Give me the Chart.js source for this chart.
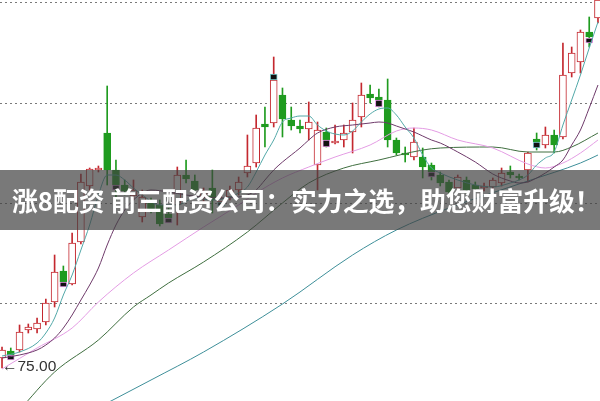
<!DOCTYPE html>
<html>
<head>
<meta charset="utf-8">
<script src="https://cdn.jsdelivr.net/npm/chart.js@4.4.1/dist/chart.umd.min.js"></script>
<style>
  html, body { margin: 0; padding: 0; background: #fff; }
  #wrap { position: relative; width: 600px; height: 401px; overflow: hidden; }
  #banner {
    position: absolute; left: 0; top: 170px; width: 600px; height: 60px;
    background: rgba(64, 64, 64, 0.7); color: #fff;
    font: 700 25.8px "Noto Sans CJK SC", "Noto Sans", sans-serif;
    line-height: 60px; padding-left: 12px; box-sizing: border-box; white-space: nowrap;
  }
  #lowTag {
    position: absolute; left: 2px; top: 357px;
    font: 15.5px "Liberation Sans", Arial, sans-serif; color: #333; white-space: nowrap;
  }
</style>
</head>
<body>
<div id="wrap">
  <canvas id="kline"></canvas>
  <div id="banner">涨8配资 前三配资公司：实力之选，助您财富升级！</div>
  <div id="lowTag">←75.00</div>
</div>
<script>
// ---- daily candles (price) ----
const candleOpen  = [76.0,76.7,76.8,78.8,78.9,79.6,81.6,84.7,83.4,87.6,93.2,94.8,98.5,94.8,93.3,92.2,90.1,91.5,91.3,90.4,91.3,94.3,93.7,92.0,93.0,91.6,92.1,92.8,94.5,95.5,99.4,99.5,102.3,99.8,99.2,98.9,95.3,98.6,97.5,97.8,98.6,100.1,102.4,102.1,101.8,97.8,96.5,96.1,96.1,95.3,94.3,93.6,93.0,93.8,93.3,93.0,93.1,93.5,94.6,94.2,94.8,97.9,97.3,98.3,98.1,104.5,105.6,108.6,110.0];
const candleClose = [76.8,76.3,78.6,79.1,79.5,81.5,84.6,83.6,87.5,93.6,94.9,95.0,94.8,93.3,92.7,92.8,92.1,90.8,89.4,90.0,94.3,93.9,92.8,92.6,91.8,92.0,92.8,93.6,95.2,99.0,99.1,103.8,99.9,99.2,98.9,99.6,98.8,97.8,97.7,98.5,99.8,102.3,102.0,101.8,97.8,96.5,96.3,97.6,95.1,94.6,93.5,92.6,94.1,92.8,92.9,93.2,93.8,94.5,94.3,94.0,96.5,97.6,98.3,97.3,104.3,106.5,108.6,108.1,111.8];
const candleHigh  = [77.1,77.0,79.3,79.4,80.0,81.9,86.3,85.2,88.5,94.4,95.0,95.2,103.2,95.8,93.8,93.8,92.8,92.0,91.8,91.0,95.1,95.8,94.3,93.0,94.8,92.3,93.2,94.1,98.3,100.3,101.1,106.1,103.0,101.1,99.8,101.6,99.6,99.0,99.3,99.3,101.5,103.5,103.3,102.9,103.9,98.0,97.1,99.0,97.0,95.5,94.6,93.8,94.3,94.1,93.6,93.5,94.0,95.0,95.2,94.4,96.6,98.5,99.1,98.8,107.5,107.1,108.8,110.1,112.3];
const candleLow   = [75.0,75.9,76.6,78.5,78.5,79.3,81.1,83.4,83.3,87.4,92.8,94.6,93.3,91.8,92.3,91.8,89.6,90.5,89.2,89.6,89.3,93.5,92.6,91.6,90.5,91.0,91.8,92.3,94.1,95.1,97.1,99.1,98.1,98.8,98.5,97.8,92.8,97.1,97.4,97.1,96.5,99.1,101.5,101.1,97.1,96.3,95.6,95.8,94.0,93.8,93.2,92.3,92.6,92.5,92.6,92.7,92.8,93.2,94.0,93.8,93.6,96.8,97.0,96.5,97.9,104.1,104.5,107.1,109.5];

// ---- signal markers ----
const markerIdx    = [1, 7, 13, 19, 25, 31, 37, 43, 49, 61, 67];
const markerTop    = [76.3, 83.6, 93.3, 90.0, 91.6, 104.4, 97.8, 101.8, 94.6, 97.6, 108.0];
const markerBottom = [75.8, 83.1, 92.8, 89.5, 91.2, 103.8, 97.1, 101.1, 94.1, 97.0, 107.5];
const markerKind   = ['S', 'S', 'S', 'S', 'B', 'B', 'S', 'S', 'S', 'B', 'S'];

// ---- moving averages (at candle index) ----
const ma5Idx = [0,2,4,5,6,7,8,9,10,11,12,13,14,15,16,18,20,22,24,26,27,28,29,30,31,32,33,34,35,36,37,38,39,40,41,42,43,44,45,46,47,48,49,50,52,54,56,58,59,60,61,62,63,64,65,66,67,68];
const ma5Val = [76.2,76.6,77.5,78.5,80.0,82.3,84.3,86.8,89.3,92.3,94.3,94.3,93.8,93.0,92.3,91.3,91.3,92.0,91.8,92.1,92.5,93.1,94.6,96.3,97.8,99.6,100.0,100.2,100.2,99.3,98.7,98.4,98.3,98.7,99.6,100.4,100.9,101.0,100.3,99.1,98.0,96.3,95.0,94.5,93.8,93.3,93.1,93.5,93.8,94.3,95.3,96.0,96.6,99.3,101.8,104.3,107.0,109.6];

const ma10Idx = [0,2,4,5,6,7,8,9,10,11,12,13,14,15,16,17,19,21,23,25,27,28,29,30,31,32,33,34,35,36,38,40,42,43,44,45,46,47,48,49,50,52,54,56,57,58,59,60,61,62,63,64,65,66,67,68];
const ma10Val = [76.0,76.3,76.8,77.3,78.0,79.0,80.3,81.8,83.3,85.0,87.3,89.3,90.8,91.8,92.5,92.8,92.6,92.3,92.1,92.0,92.1,92.3,92.8,93.8,94.8,95.6,96.3,97.0,97.8,98.5,99.1,99.3,99.5,99.6,99.5,99.2,98.9,98.6,98.2,97.8,97.5,96.6,95.6,94.4,94.0,93.7,93.5,93.6,94.0,94.5,95.1,95.8,97.3,98.8,101.0,103.3];

const ma20Idx = [0,4,8,11,15,19,23,27,29,32,35,38,42,45,47,49,52,56,60,62,64,66,68];
const ma20Val = [74.9,77.0,79.0,81.6,84.5,86.8,89.1,91.3,92.5,94.0,95.1,96.1,97.3,98.7,99.0,98.8,97.8,97.0,95.4,95.0,95.5,96.5,97.8];

const ma60Idx = [2,6,11,15,17,19,23,28,32,35,39,43,48,50,56,60,63,65,68];
const ma60Val = [70.8,74.6,77.8,81.1,82.3,83.5,85.6,88.6,91.5,93.5,95.0,95.8,96.8,97.0,97.1,96.6,96.6,97.1,98.5];

const ma120Idx = [12,17,23,32,40,45,51,60,66,68];
const ma120Val = [71.5,73.8,76.6,81.4,86.3,88.8,91.0,93.7,95.5,96.3];

// dotted price levels
const gridLevels = [81.5, 91.5, 101.5, 111.5];

const UP = '#c4282f';
const DOWN = '#1f9b1f';

const rising = candleOpen.map((o, i) => candleClose[i] >= o);
const candleColor = rising.map(r => r ? UP : DOWN);

function pts(idx, vals) {
  return idx.map((x, k) => ({ x, y: vals[k] }));
}

function maLine(label, idx, vals, color) {
  return {
    type: 'line', label, data: pts(idx, vals), order: 0,
    borderColor: color, borderWidth: 1, pointRadius: 0,
    cubicInterpolationMode: 'monotone', fill: false
  };
}

new Chart(document.getElementById('kline'), {
  type: 'bar',
  data: {
    datasets: [
      maLine('MA5', ma5Idx, ma5Val, '#52a8a8'),
      maLine('MA10', ma10Idx, ma10Val, '#6e3a6a'),
      maLine('MA20', ma20Idx, ma20Val, '#e49ce4'),
      maLine('MA60', ma60Idx, ma60Val, '#3f6e3f'),
      maLine('MA120', ma120Idx, ma120Val, '#3e8f99'),
      {
        label: 'signal', order: 1, grouped: false, barThickness: 7,
        data: markerIdx.map((x, k) => ({ x, y: [markerBottom[k], markerTop[k]] })),
        backgroundColor: '#111',
        borderColor: markerKind.map(k => k === 'B' ? '#7fd0d0' : '#e59ae5'),
        borderWidth: 1, borderSkipped: false
      },
      {
        label: 'body', order: 2, grouped: false, barThickness: 7,
        data: candleOpen.map((o, i) => ({ x: i, y: [o, candleClose[i]] })),
        backgroundColor: rising.map(r => r ? '#fff' : DOWN),
        borderColor: candleColor, borderWidth: 1, borderSkipped: false
      },
      {
        label: 'wick', order: 3, grouped: false, barThickness: 1,
        data: candleLow.map((l, i) => ({ x: i, y: [l, candleHigh[i]] })),
        backgroundColor: candleColor, borderWidth: 0
      }
    ]
  },
  options: {
    responsive: true,
    maintainAspectRatio: false,
    animation: false,
    layout: { padding: 0 },
    plugins: { legend: { display: false }, tooltip: { enabled: false } },
    scales: {
      x: { type: 'linear', min: -0.23, max: 68.23, offset: false, display: false },
      y: {
        min: 71.7, max: 111.8,
        afterFit: s => { s.width = 0; },
        afterBuildTicks: s => { s.ticks = gridLevels.map(v => ({ value: v })); },
        ticks: { display: false },
        grid: { color: '#7a7a7a', lineWidth: 1, drawTicks: false },
        border: { display: false, dash: [2, 3] }
      }
    }
  }
});
</script>
</body>
</html>
